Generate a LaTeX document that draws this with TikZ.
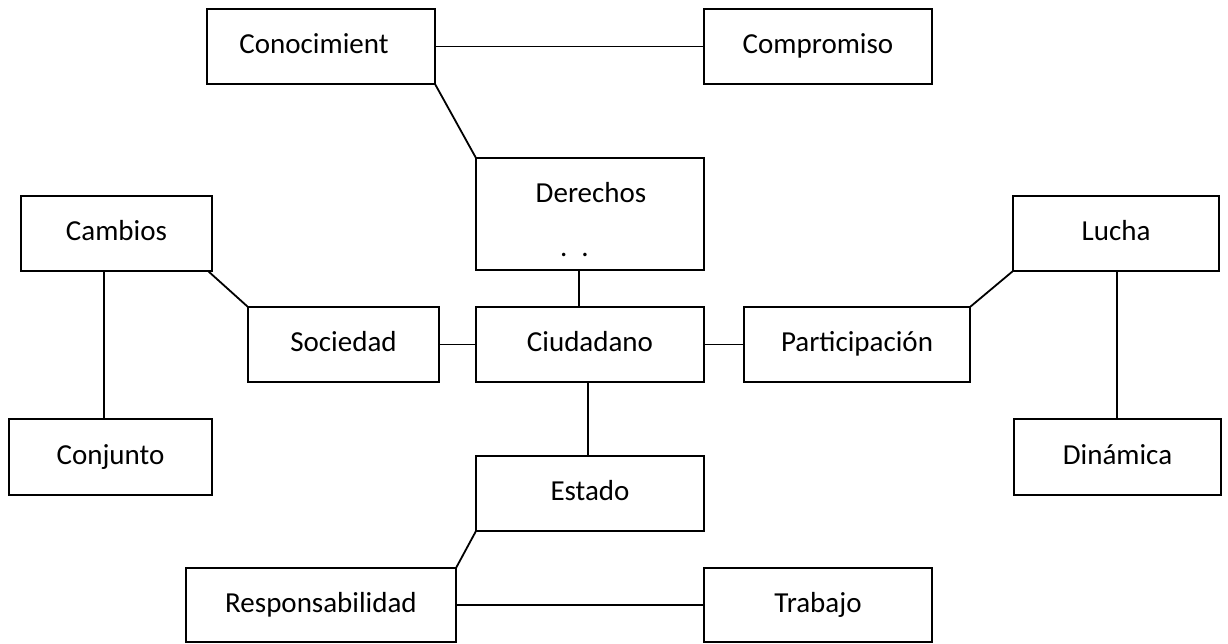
\documentclass[tikz,border=0pt]{standalone}
\usepackage{fontspec}
\setmainfont{Carlito}
\begin{document}
\begin{tikzpicture}[x=1pt,y=-1pt,
  box/.style={draw=black, line width=1.8pt, rectangle, inner sep=0pt, outer sep=0pt, align=center, text height=20pt, text depth=6pt},
  lbl/.style={inner sep=0pt, outer sep=0pt, anchor=base},
  link/.style={draw=black, line width=1.8pt},
  font=\fontsize{29}{34}\selectfont]
\useasboundingbox (0,0) rectangle (1228,643);
% boxes
\node[box, minimum width=228, minimum height=75] (con) at (321,46.5) {};
\node[lbl] (conT) at (314,53) {Conocimient};
\node[box, minimum width=228, minimum height=75] (com) at (818,46.5) {Compromiso};
\node[box, minimum width=228, minimum height=112] (der) at (590,214) {};
\node[lbl] (derT) at (591,202) {Derechos};
\node[lbl] (derD) at (574.5,256) {.\hspace{14pt}.};
\node[box, minimum width=191, minimum height=75] (cam) at (116.5,233.5) {Cambios};
\node[box, minimum width=206, minimum height=75] (luc) at (1116,233.5) {Lucha};
\node[box, minimum width=191, minimum height=75] (soc) at (343.5,344.5) {Sociedad};
\node[box, minimum width=228, minimum height=75] (ciu) at (590,344.5) {Ciudadano};
\node[box, minimum width=226, minimum height=75] (par) at (857,344.5) {Participación};
\node[box, minimum width=203, minimum height=76] (cnj) at (110.5,457) {Conjunto};
\node[box, minimum width=207, minimum height=76] (din) at (1117.5,457) {Dinámica};
\node[box, minimum width=228, minimum height=75] (est) at (590,493.5) {Estado};
\node[box, minimum width=270, minimum height=74] (res) at (321,605) {Responsabilidad};
\node[box, minimum width=228, minimum height=74] (tra) at (818,605) {Trabajo};
% connectors
\draw[link] (con.east) -- (com.west);
\draw[link] (con.south east) -- (der.north west);
\draw[link] ([xshift=-11pt]der.south) -- ([xshift=-11pt]ciu.north);
\draw[link] ([xshift=-4pt]cam.south east) -- (soc.north west);
\draw[link] ([xshift=-12.5pt]cam.south) -- ([xshift=-6.5pt]cnj.north);
\draw[link] (soc.east) -- (ciu.west);
\draw[link] (ciu.east) -- (par.west);
\draw[link] (par.north east) -- (luc.south west);
\draw[link] ([xshift=1pt]luc.south) -- ([xshift=-0.5pt]din.north);
\draw[link] ([xshift=-2pt]ciu.south) -- ([xshift=-2pt]est.north);
\draw[link] (est.south west) -- (res.north east);
\draw[link] (res.east) -- (tra.west);
\end{tikzpicture}
\end{document}
